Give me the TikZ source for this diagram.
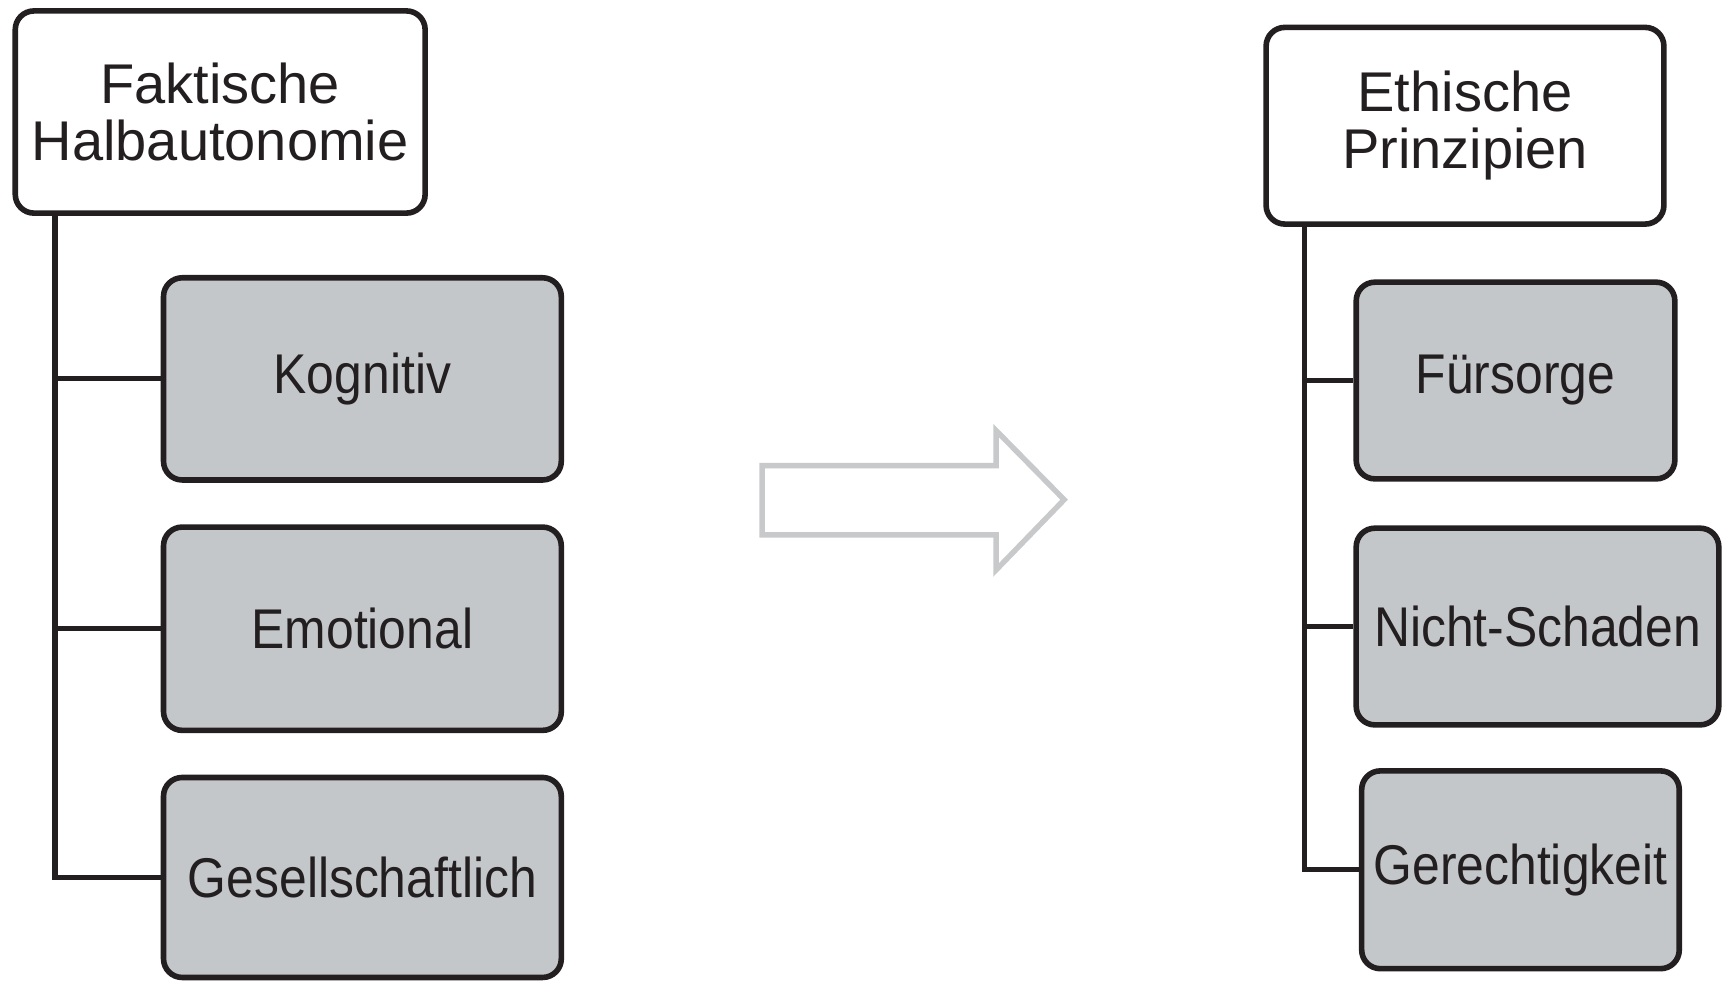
\documentclass[tikz,border=0pt]{standalone}
\usepackage{fontspec}
\setmainfont{Liberation Sans}
\newfontfamily\topfont{Liberation Sans}
\newfontfamily\boxfont[FakeStretch=0.89]{Liberation Sans}
\definecolor{ink}{HTML}{231F20}
\definecolor{boxgray}{HTML}{C4C7CA}
\definecolor{arrowgray}{HTML}{C8C9CB}
\tikzset{
  headbox/.style={draw=ink, line width=1.45pt, fill=white, rounded corners=0.17cm,
    align=center, inner sep=0pt, text=ink,
    font=\topfont\fontsize{14.5}{14.8}\selectfont},
  itembox/.style={draw=ink, line width=1.45pt, fill=boxgray, rounded corners=0.17cm,
    align=center, inner sep=0pt, text=ink,
    font=\boxfont\fontsize{14.5}{14.8}\selectfont},
  link/.style={draw=ink, line width=1.35pt},
  bigarrow/.style={draw=arrowgray, line width=1.4pt, fill=white}
}
\begin{document}
\begin{tikzpicture}[x=0.01cm, y=-0.01cm]
\useasboundingbox (0,0) rectangle (1568,894);
% left column
\node[headbox, minimum width=3.73cm, minimum height=1.84cm] (fh) at (200.5,102) {Faktische\\Halbautonomie};
\node[itembox, minimum width=3.62cm, minimum height=1.84cm] (kog) at (330,345) {Kognitiv};
\node[itembox, minimum width=3.62cm, minimum height=1.85cm] (emo) at (330,572.5) {Emotional};
\node[itembox, minimum width=3.62cm, minimum height=1.82cm] (ges) at (330,799) {Gesellschaftlich};
\coordinate (spineL) at (50,0);
\draw[link] (spineL |- fh.south) |- (ges.west);
\draw[link] (spineL |- kog.west) -- (kog.west);
\draw[link] (spineL |- emo.west) -- (emo.west);
% arrow
\draw[bigarrow, line join=miter] (694,424) -- (907,424) -- (907,392) -- (969,455) -- (907,519) -- (907,487) -- (694,487) -- cycle;
% right column
\node[headbox, minimum width=3.62cm, minimum height=1.79cm] (eth) at (1334,114.5) {Ethische\\Prinzipien};
\node[itembox, minimum width=2.90cm, minimum height=1.79cm] (fue) at (1380,346.5) {Fürsorge};
\node[itembox, minimum width=3.30cm, minimum height=1.79cm] (nsc) at (1400,570.5) {Nicht-Schaden};
\node[itembox, minimum width=2.89cm, minimum height=1.80cm] (ger) at (1384.5,792) {Gerechtigkeit};
\coordinate (spineR) at (1188,0);
\draw[link] (spineR |- eth.south) |- (ger.west);
\draw[link] (spineR |- fue.west) -- (fue.west);
\draw[link] (spineR |- nsc.west) -- (nsc.west);
\end{tikzpicture}
\end{document}
